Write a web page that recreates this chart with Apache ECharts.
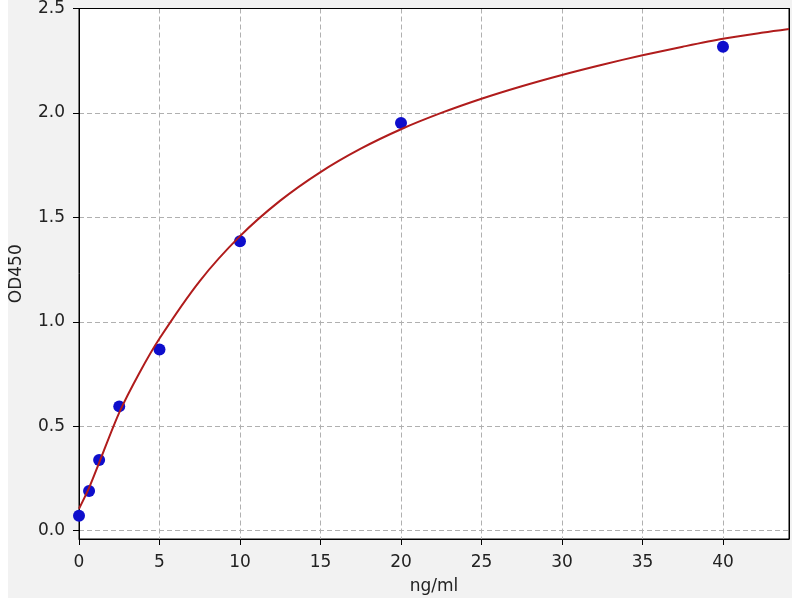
<!DOCTYPE html>
<html>
<head>
<meta charset="utf-8">
<script src="https://cdn.jsdelivr.net/npm/echarts@6/dist/echarts.min.js"></script>
<style>
html,body{margin:0;padding:0;background:#ffffff;}
#bg{position:absolute;left:8px;top:0;width:784px;height:598px;background:#f2f2f2;}
#chart{position:absolute;left:0;top:0;width:800px;height:600px;}
</style>
</head>
<body>
<div id="bg"></div>
<div id="chart"></div>
<script>
// Measured standards
const concentrations = [0, 0.625, 1.25, 2.5, 5, 10, 20, 40];
const odValues = [0.071, 0.19, 0.338, 0.595, 0.867, 1.386, 1.952, 2.317];
// Fitted curve
const curveX = [0, 0.625, 1.25, 2.5, 3.75, 5, 7.5, 10, 12.5, 15, 17.5, 20, 22.5, 25, 27.5, 30, 32.5, 35, 37.5, 40, 42.5, 44.1];
const curveY = [0.105, 0.205, 0.325, 0.565, 0.755, 0.92, 1.195, 1.41, 1.58, 1.717, 1.829, 1.922, 2.0, 2.068, 2.128, 2.182, 2.231, 2.276, 2.317, 2.355, 2.385, 2.402];
const xTicks = [0, 5, 10, 15, 20, 25, 30, 35, 40];
const yTicks = [0, 0.5, 1.0, 1.5, 2.0, 2.5];

const chart = echarts.init(document.getElementById('chart'), null, {renderer: 'canvas'});
const font = 'DejaVu Sans';
const X_MIN = 0, X_MAX = 44.1, Y_MIN = -0.04, Y_MAX = 2.5;
chart.setOption({
  backgroundColor: 'transparent',
  animation: false,
  grid: {left: 78, right: 11, top: 6, bottom: 61, show: true, backgroundColor: '#ffffff', borderColor: '#000000', borderWidth: 1},
  xAxis: [{
    type: 'value', min: X_MIN, max: X_MAX,
    name: 'ng/ml', nameLocation: 'middle', nameGap: 39,
    nameTextStyle: {fontFamily: font, fontSize: 17, color: '#222'},
    axisLine: {show: true, onZero: false, lineStyle: {color: '#000', width: 1}},
    axisTick: {show: true, inside: false, length: 6, lineStyle: {color: '#000'}, customValues: xTicks},
    axisLabel: {fontFamily: font, fontSize: 17, color: '#222', margin: 15, customValues: xTicks},
    splitLine: {show: true, lineStyle: {color: '#b0b0b0', type: [5, 3], width: 1}}
  }, {
    type: 'value', min: X_MIN, max: X_MAX, position: 'top',
    axisLine: {show: true, onZero: false, lineStyle: {color: '#000', width: 1}},
    axisTick: {show: false}, axisLabel: {show: false}, splitLine: {show: false}
  }],
  yAxis: [{
    type: 'value', min: Y_MIN, max: Y_MAX,
    name: 'OD450', nameLocation: 'middle', nameGap: 54, nameRotate: 90,
    nameTextStyle: {fontFamily: font, fontSize: 17, color: '#222'},
    axisLine: {show: true, onZero: false, lineStyle: {color: '#000', width: 1}},
    axisTick: {show: true, inside: false, length: 6, lineStyle: {color: '#000'}, customValues: yTicks},
    axisLabel: {fontFamily: font, fontSize: 17, color: '#222', margin: 14, customValues: yTicks,
      formatter: v => v.toFixed(1)},
    splitLine: {show: true, lineStyle: {color: '#b0b0b0', type: [5, 3], width: 1}}
  }, {
    type: 'value', min: Y_MIN, max: Y_MAX, position: 'right',
    axisLine: {show: true, onZero: false, lineStyle: {color: '#000', width: 1}},
    axisTick: {show: false}, axisLabel: {show: false}, splitLine: {show: false}
  }],
  series: [
    {
      type: 'scatter', name: 'standards',
      data: concentrations.map((c, i) => [c, odValues[i]]),
      symbol: 'circle', symbolSize: 12,
      itemStyle: {color: '#0e0ecc', opacity: 1},
      z: 2
    },
    {
      type: 'line', name: 'fit',
      data: curveX.map((c, i) => [c, curveY[i]]),
      smooth: 0.3, showSymbol: false, symbol: 'none',
      lineStyle: {color: '#b01c1c', width: 2},
      z: 3
    }
  ]
});
</script>
</body>
</html>
